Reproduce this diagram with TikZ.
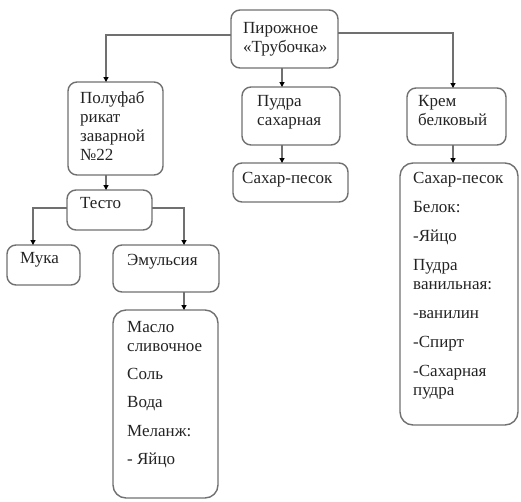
\documentclass[tikz,border=0pt]{standalone}
\usepackage{fontspec}
\setmainfont{Liberation Serif}
\newfontfamily\serfont{Liberation Serif}
\usetikzlibrary{arrows.meta}
\definecolor{edge}{RGB}{112,112,112}
\definecolor{ink}{RGB}{35,35,35}
\begin{document}
\begin{tikzpicture}[x=1pt,y=-1pt,
  box/.style={draw=edge, line width=1.4pt, rounded corners=9pt, inner sep=0pt, outer sep=0pt},
  tall/.style={box, rounded corners=13pt},
  txt/.style={anchor=base west, inner sep=0pt, text=ink, font=\serfont\fontsize{17}{19}\selectfont},
  arr/.style={draw=edge, line width=1.2pt, -{Triangle[length=5pt,width=5pt,fill=black,color=black]}}]
\useasboundingbox (0,0) rectangle (521,501);
% boxes
\node[box, minimum width=107pt, minimum height=58pt] (root) at (284.5,39) {};
\node[box, minimum width=95pt, minimum height=93pt] (pf) at (115.5,128.5) {};
\node[box, minimum width=85pt, minimum height=40pt] (testo) at (109.5,210) {};
\node[box, minimum width=73pt, minimum height=40pt] (muka) at (43.5,265) {};
\node[box, minimum width=106pt, minimum height=47pt] (emul) at (166,268.5) {};
\node[tall, minimum width=105pt, minimum height=188pt] (maslo) at (165.5,404) {};
\node[box, minimum width=98pt, minimum height=58pt] (pudra) at (291,116) {};
\node[box, minimum width=115pt, minimum height=39pt] (sahar) at (290.5,182.5) {};
\node[box, minimum width=99pt, minimum height=57pt] (krem) at (456.5,116.5) {};
\node[tall, minimum width=118pt, minimum height=262pt] (big) at (459,294) {};
% texts
\node[txt] (rootT) at (243,33) {\parbox[t]{100pt}{\raggedright Пирожное\\«Трубочка»}};
\node[txt] (pfT) at (80,103) {\parbox[t]{90pt}{\raggedright Полуфаб\\рикат\\заварной\\№22}};
\node[txt] (testoT) at (80,208) {Тесто};
\node[txt] (mukaT) at (20,263) {Мука};
\node[txt] (emulT) at (127,265) {Эмульсия};
\node[txt] (masloT) at (127,332) {\parbox[t]{90pt}{\raggedright Масло\\сливочное\\[9pt]Соль\\[9.5pt]Вода\\[9.5pt]Меланж:\\[9.5pt]- Яйцо}};
\node[txt] (pudraT) at (257,106) {\parbox[t]{90pt}{\raggedright Пудра\\сахарная}};
\node[txt] (saharT) at (242,183) {Сахар-песок};
\node[txt] (kremT) at (418,106) {\parbox[t]{90pt}{\raggedright Крем\\белковый}};
\node[txt] (bigT) at (413,183) {\parbox[t]{105pt}{\raggedright Сахар-песок\\[10pt]Белок:\\[10pt]-Яйцо\\[10pt]Пудра\\ванильная:\\[10pt]-ванилин\\[10pt]-Спирт\\[10pt]-Сахарная\\пудра}};
% connectors
\draw[arr] ([yshift=4pt]root.west) -| ([xshift=-9.5pt]pf.north);
\draw[arr] ([xshift=-2.5pt]root.south) -- ([xshift=-2.5pt]root.south |- pudra.north);
\draw[arr] ([xshift=-9pt]pudra.south) -- ([xshift=-9pt]pudra.south |- sahar.north);
\draw[arr] ([yshift=6pt]root.east) -| ([xshift=-3.5pt]krem.north);
\draw[arr] ([xshift=-3.5pt]krem.south) -- ([xshift=-3.5pt]krem.south |- big.north);
\draw[arr] ([xshift=-9.5pt]pf.south) -- ([xshift=-9.5pt]pf.south |- testo.north);
\draw[arr] ([yshift=2pt]testo.west) -| ([xshift=-10.5pt]muka.north);
\draw[arr] ([yshift=2pt]testo.east) -| ([xshift=18pt]emul.north);
\draw[arr] ([xshift=18pt]emul.south) -- ([xshift=18pt]emul.south |- maslo.north);
\end{tikzpicture}
\end{document}
